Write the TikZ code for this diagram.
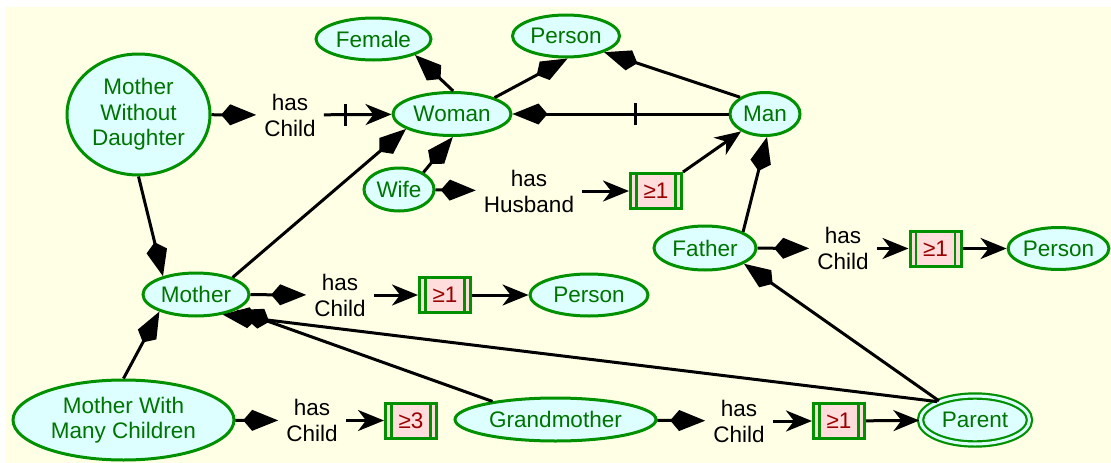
\documentclass[tikz,border=0pt]{standalone}
\usepackage{fontspec}
\setmainfont{Liberation Sans}
\usetikzlibrary{arrows.meta,shapes.geometric}
\definecolor{bgc}{HTML}{FFFFE6}
\definecolor{cfill}{HTML}{DDFFFF}
\definecolor{cdraw}{HTML}{009000}
\definecolor{ctext}{HTML}{007400}
\definecolor{bfill}{HTML}{FFDDDD}
\definecolor{btext}{HTML}{990000}
\begin{document}
\begin{tikzpicture}[x=1pt,y=-1pt,
  cls/.style={ellipse, draw=cdraw, fill=cfill, line width=3pt, inner sep=0pt,
    text=ctext, font=\fontsize{22.5}{25.5}\selectfont, align=center},
  card/.style={rectangle, draw=cdraw, fill=bfill, line width=3pt,
    minimum width=51pt, minimum height=35pt, inner sep=0pt, text=btext,
    font=\fontsize{22.5}{25}\selectfont,
    path picture={\draw[cdraw, line width=2.2pt]
      ([xshift=6pt]path picture bounding box.south west) -- ([xshift=6pt]path picture bounding box.north west)
      ([xshift=-6pt]path picture bounding box.south east) -- ([xshift=-6pt]path picture bounding box.north east);}},
  lbl/.style={align=center, inner xsep=8pt, inner ysep=2pt, font=\fontsize{22.5}{26}\selectfont},
  conn/.style={line width=3pt},
  isa/.style={conn, -{Kite[length=35pt,width=21pt,inset=9pt]}},
  to/.style={conn, -{Stealth[length=26pt,width=21pt,inset=8pt]}},
]
\useasboundingbox (0,0) rectangle (1111,463);
\fill[bgc] (5,7) rectangle (1111,463);

% classes
\node[cls, minimum width=115pt, minimum height=42pt] (female) at (373.5,39) {Female};
\node[cls, minimum width=107pt, minimum height=42pt] (persontop) at (566,36) {Person};
\node[cls, minimum width=118pt, minimum height=43pt] (woman) at (452,114) {Woman};
\node[cls, minimum width=70pt, minimum height=43pt] (man) at (765,114) {Man};
\node[cls, minimum width=143pt, minimum height=121pt] (mwd) at (138.5,114.5) {Mother\\Without\\Daughter};
\node[cls, minimum width=70pt, minimum height=43pt] (wife) at (399,189.5) {Wife};
\node[cls, minimum width=102pt, minimum height=44pt] (father) at (705,248) {Father};
\node[cls, minimum width=100pt, minimum height=42pt] (personR) at (1058.5,248.5) {Person};
\node[cls, minimum width=106pt, minimum height=43pt] (mother) at (196,294.5) {Mother};
\node[cls, minimum width=118pt, minimum height=42pt] (personM) at (589,295) {Person};
\node[cls, minimum width=221pt, minimum height=80pt] (mwmc) at (123.5,420) {Mother With\\Many Children};
\node[cls, minimum width=201pt, minimum height=43pt] (grandm) at (555.5,419.5) {Grandmother};
\node[cls, line width=2.2pt, double=cfill, double distance=3pt, minimum width=109pt, minimum height=48pt] (parent) at (975,420) {Parent};

% cardinality boxes
\node[card] (card1) at (656,191) {≥1};
\node[card] (card2) at (935.5,248.5) {≥1};
\node[card] (card3) at (445,295) {≥1};
\node[card] (card4) at (411,420.5) {≥3};
\node[card] (card5) at (839,421) {≥1};

% property labels
\node[lbl] (l1) at (290,115) {has\\Child};
\node[lbl] (l2) at (529,191) {has\\Husband};
\node[lbl] (l3) at (843,248.5) {has\\Child};
\node[lbl] (l4) at (340,295) {has\\Child};
\node[lbl] (l5) at (312,420.5) {has\\Child};
\node[lbl] (l6) at (739,421) {has\\Child};

% connectors
\draw[isa] (mwd) -- (l1);
\draw[to] (l1) -- coordinate[pos=0.32](b1) (woman);
\draw[conn] ([yshift=-11pt]b1) -- ([yshift=11pt]b1);
\draw[isa] (woman.87) -- (female.-21);
\draw[isa] (woman.21) -- (persontop.-86);
\draw[isa] (man.146) -- (persontop.-23);
\draw[isa] (man) -- coordinate[pos=0.43](b2) (woman);
\draw[conn] ([yshift=-11pt]b2) -- ([yshift=11pt]b2);
\draw[isa] (wife.35) -- (woman.-88);
\draw[isa] (wife) -- (l2);
\draw[to] (l2) -- (card1);
\draw[to] (card1.north east) -- (man.-144);
\draw[isa] (father.23) -- (man.-85);
\draw[isa] (father) -- (l3);
\draw[to] (l3) -- (card2);
\draw[to] (card2) -- (personR);
\draw[isa] (parent.152) -- (father.-22);
\draw[isa] (parent.154) -- (mother.-37);
\draw[isa] (grandm.164) -- (mother.-21);
\draw[isa] (mwd.-90) -- (mother.151);
\draw[isa] (mother.25) -- (woman.-162);
\draw[isa] (mwmc.90) -- (mother.-155);
\draw[isa] (mother) -- (l4);
\draw[to] (l4) -- (card3);
\draw[to] (card3) -- (personM);
\draw[isa] (mwmc) -- (l5);
\draw[to] (l5) -- (card4);
\draw[isa] (grandm) -- (l6);
\draw[to] (l6) -- (card5);
\draw[to] (card5) -- (parent);
\end{tikzpicture}
\end{document}
